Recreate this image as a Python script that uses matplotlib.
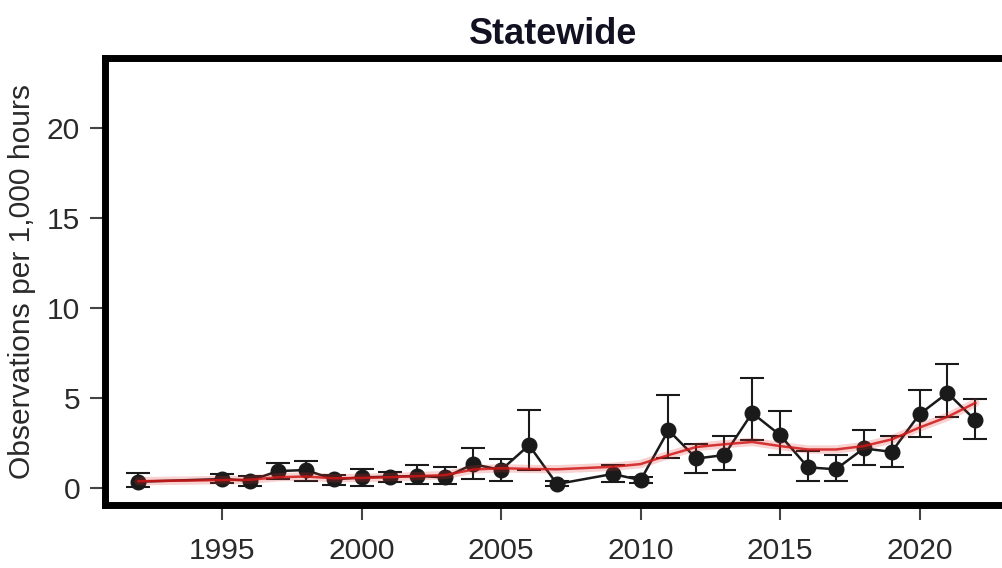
import numpy as np
import matplotlib
matplotlib.use("Agg")
import matplotlib.pyplot as plt

# yearly rates (observations per 1,000 hours) with interval bounds; no survey in 1993, 1994, 2008
years = [1992, 1995, 1996, 1997, 1998, 1999, 2000, 2001, 2002, 2003, 2004, 2005, 2006, 2007,
         2009, 2010, 2011, 2012, 2013, 2014, 2015, 2016, 2017, 2018, 2019, 2020, 2021, 2022]
rate = [0.37, 0.52, 0.43, 0.96, 1.02, 0.50, 0.61, 0.65, 0.69, 0.61, 1.35, 1.02, 2.40, 0.24,
        0.80, 0.46, 3.23, 1.66, 1.85, 4.19, 2.96, 1.17, 1.06, 2.22, 2.03, 4.12, 5.30, 3.79]
upper = [0.87, 0.80, 0.69, 1.42, 1.53, 0.74, 1.07, 0.91, 1.30, 1.17, 2.27, 1.61, 4.38, 0.40,
         1.29, 0.62, 5.17, 2.49, 2.92, 6.15, 4.29, 2.07, 1.85, 3.27, 2.92, 5.49, 6.93, 4.95]
lower = [0.06, 0.28, 0.15, 0.52, 0.43, 0.20, 0.15, 0.37, 0.24, 0.24, 0.52, 0.43, 1.01, 0.12,
         0.35, 0.30, 1.66, 0.87, 1.01, 2.68, 1.85, 0.43, 0.43, 1.30, 1.20, 2.86, 3.97, 2.75]
# smoothed trend (red)
trend = [0.40, 0.46, 0.48, 0.62, 0.66, 0.56, 0.58, 0.62, 0.68, 0.74, 1.05, 1.12, 1.08, 1.06,
         1.20, 1.35, 1.85, 2.30, 2.45, 2.58, 2.35, 2.16, 2.16, 2.35, 2.72, 3.38, 3.97, 4.75]

xticks = [1995, 2000, 2005, 2010, 2015, 2020]
yticks = [0, 5, 10, 15, 20]

plt.rcParams['font.family'] = ['Liberation Sans', 'DejaVu Sans']

fig = plt.figure(figsize=(10.02, 5.68), dpi=100)
ax = fig.add_axes([0.1048, 0.111, 0.902, 0.7874])

yerr = [np.array(rate) - np.array(lower), np.array(upper) - np.array(rate)]
ax.errorbar(years, rate, yerr=yerr, fmt='o-', color='#1a1a1a', ms=10.5, lw=1.8,
            elinewidth=1.5, capsize=8.5, capthick=1.5, zorder=3)
ax.plot(years, trend, color='#e03030', lw=6, alpha=0.22, zorder=4, solid_capstyle='round')
ax.plot(years, trend, color='#d01818', lw=1.8, alpha=0.85, zorder=5)

ax.set_xlim(1990.8, 2023.2)
ax.set_ylim(-0.92, 23.92)
ax.set_xticks(xticks)
ax.set_yticks(yticks)

for s in ax.spines.values():
    s.set_linewidth(5)
    s.set_color('black')

ax.tick_params(axis='both', labelsize=21.6, labelcolor='#2a2a2a', color='#444444',
               width=1.5, length=11, direction='out')
ax.tick_params(axis='x', pad=12)
ax.tick_params(axis='y', pad=7)

ax.set_ylabel('Observations per 1,000 hours', fontsize=21.6, color='#2a2a2a', labelpad=8)
ax.set_title('Statewide', fontsize=25.9, fontweight='bold', color='#111122', pad=10,
             x=(553 - 105) / (0.902 * 1002))

fig.savefig('out.png', dpi=100)
